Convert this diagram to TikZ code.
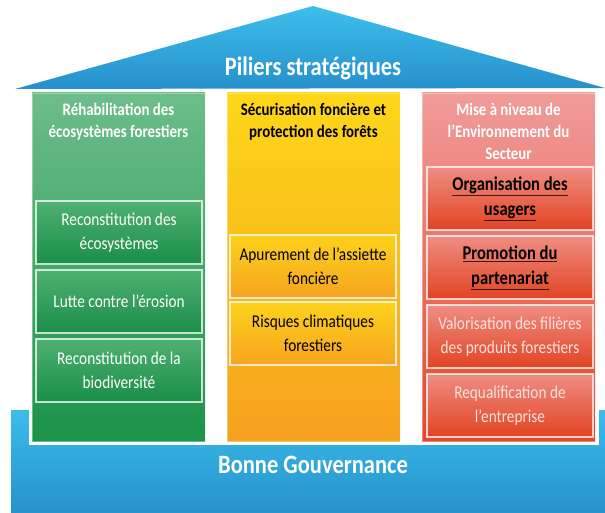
\documentclass[tikz,border=0pt]{standalone}
\usepackage{fontspec}
\setmainfont{Carlito}[FakeStretch=0.85]
\definecolor{roofT}{HTML}{3DBFEC}
\definecolor{roofB}{HTML}{2690CB}
\definecolor{baseT}{HTML}{3ABDEB}
\definecolor{baseB}{HTML}{2792CB}
\definecolor{grT}{HTML}{6DBD8A}
\definecolor{grB}{HTML}{1B9249}
\definecolor{giT}{HTML}{4FB071}
\definecolor{giB}{HTML}{1A8E48}
\definecolor{yeT}{HTML}{FDD719}
\definecolor{yeB}{HTML}{F6A11F}
\definecolor{yiT}{HTML}{FDD21B}
\definecolor{yiB}{HTML}{F6A420}
\definecolor{reT}{HTML}{F09C9B}
\definecolor{reB}{HTML}{E4482A}
\definecolor{riT}{HTML}{EF8D83}
\definecolor{riB}{HTML}{E24322}
\definecolor{pinkw}{HTML}{FBE3DE}
\begin{document}
\begin{tikzpicture}[x=1pt,y=-1pt,
  pillar/.style={anchor=north west,inner sep=0pt,outer sep=0pt,minimum width=173pt,minimum height=348pt,draw=white,draw opacity=0.35,line width=0.8pt},
  inbox/.style={anchor=north west,inner sep=0pt,outer sep=0pt,minimum width=166pt,minimum height=63pt,draw=white,draw opacity=0.75,line width=1.3pt,align=center,font=\fontsize{18}{24}\selectfont},
  boldbox/.style={inbox,text=black,font=\bfseries\fontsize{19.5}{25}\selectfont},
  ptitle/.style={anchor=north,inner sep=0pt,align=center,font=\bfseries\fontsize{17.5}{22}\selectfont},
  bigtitle/.style={inner sep=0pt,text=white,font=\bfseries\fontsize{26.5}{28}\selectfont}]
\useasboundingbox (0,0) rectangle (605,513);
% base
\shade[top color=baseT,bottom color=baseB] (11,410) rectangle (605,513);
\fill[white] (29,300) rectangle (599,445);
% roof
\shade[top color=roofT,bottom color=roofB] (15,89) -- (313,6) -- (605,88) -- cycle;
\node[bigtitle] (roof) at (313,68) {Piliers stratégiques};
\node[bigtitle] (gov) at (313,465) {Bonne Gouvernance};
% pillars
\node[pillar,top color=grT,bottom color=grB] (pg) at (32,93) {};
\node[pillar,top color=yeT,bottom color=yeB] (py) at (227,93) {};
\node[pillar,top color=reT,bottom color=reB] (pr) at (422,93) {};
% titles
\node[ptitle,text=white] (tg) at (118.5,103) {Réhabilitation des\\écosystèmes forestiers};
\node[ptitle,text=black] (ty) at (313.5,103) {Sécurisation foncière et\\protection des forêts};
\node[ptitle,text=white] (tr) at (508.5,103) {Mise à niveau de\\l’Environnement du\\Secteur};
% green boxes
\node[inbox,top color=giT,bottom color=giB,text=white] (g1) at (36,201) {Reconstitution des\\écosystèmes};
\node[inbox,top color=giT,bottom color=giB,text=white] (g2) at (36,270) {Lutte contre l’érosion};
\node[inbox,top color=giT,bottom color=giB,text=white] (g3) at (36,339) {Reconstitution de la\\biodiversité};
% yellow boxes
\node[inbox,top color=yiT,bottom color=yiB,text=black] (y1) at (230,235) {Apurement de l’assiette\\foncière};
\node[inbox,top color=yiT,bottom color=yiB,text=black] (y2) at (230,302) {Risques climatiques\\forestiers};
% red boxes
\node[boldbox,top color=riT,bottom color=riB] (r1) at (427,167) {\underline{Organisation des}\\\underline{usagers}};
\node[boldbox,top color=riT,bottom color=riB] (r2) at (427,236) {\underline{Promotion du}\\\underline{partenariat}};
\node[inbox,top color=riT,bottom color=riB,text=pinkw] (r3) at (427,305) {Valorisation des filières\\des produits forestiers};
\node[inbox,top color=riT,bottom color=riB,text=pinkw] (r4) at (427,374) {Requalification de\\l’entreprise};
\end{tikzpicture}
\end{document}
